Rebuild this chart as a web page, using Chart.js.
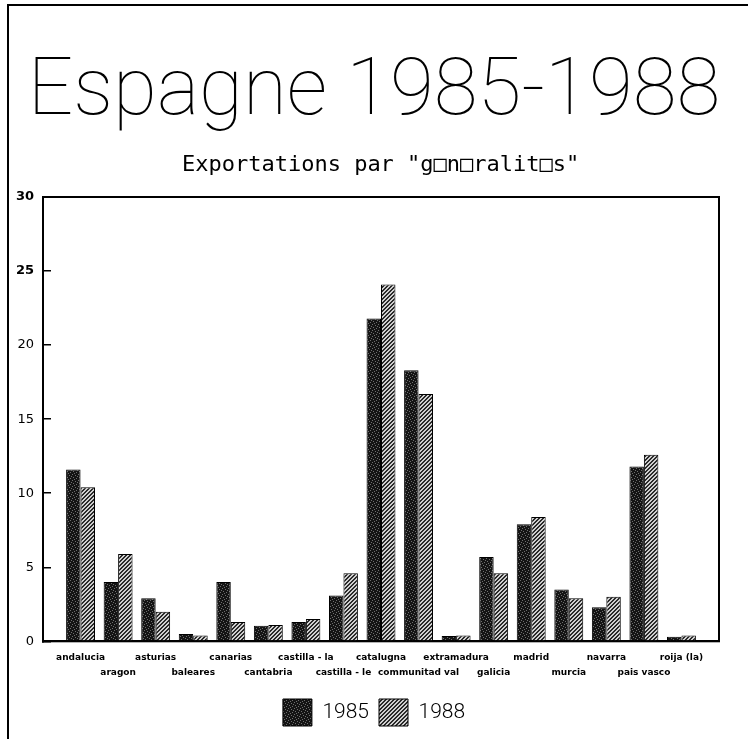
<!DOCTYPE html>
<html>
<head>
<meta charset="utf-8">
<script src="https://cdn.jsdelivr.net/npm/chart.js@4.4.0/dist/chart.umd.min.js"></script>
<style>
  body { margin: 0; background: #fff; }
  canvas { display: block; }
</style>
</head>
<body>
<canvas id="myChart" width="748" height="739"></canvas>
<script>
// regions, values
const categories = ['andalucia', 'aragon', 'asturias', 'baleares', 'canarias', 'cantabria',
  'castilla - la', 'castilla - le', 'catalugna', 'communitad val', 'extramadura', 'galicia',
  'madrid', 'murcia', 'navarra', 'pais vasco', 'roija (la)'];
const values1985 = [11.6, 4.0, 2.9, 0.5, 4.0, 1.05, 1.3, 3.1, 21.8, 18.3, 0.35, 5.7, 7.9, 3.5, 2.3, 11.8, 0.3];
const values1988 = [10.4, 5.9, 2.0, 0.4, 1.3, 1.1, 1.5, 4.6, 24.1, 16.7, 0.4, 4.6, 8.4, 2.9, 3.0, 12.6, 0.4];
const seriesNames = ['1985', '1988'];
const yTicks = [0, 5, 10, 15, 20, 25, 30];

// blank slot at each end so groups sit one step in from the frame
const labels = [''].concat(categories, ['']);
const pad = arr => [null].concat(arr, [null]);

function makePattern(w, h, paint) {
  const c = document.createElement('canvas');
  c.width = w; c.height = h;
  const g = c.getContext('2d');
  paint(g);
  return g.createPattern(c, 'repeat');
}

// dark stipple for 1985
const stipple = makePattern(6, 6, g => {
  g.fillStyle = '#141414';
  g.fillRect(0, 0, 6, 6);
  g.fillStyle = '#6e6e6e';
  [[0, 0], [3, 1], [1, 3], [4, 4], [5, 2], [2, 5]].forEach(p => g.fillRect(p[0], p[1], 1, 1));
});

// diagonal hatch for 1988
const hatch = makePattern(4, 4, g => {
  for (let x = 0; x < 4; x++) {
    for (let y = 0; y < 4; y++) {
      g.fillStyle = ((x + y) % 4 < 2) ? '#2a2a2a' : '#d0d0d0';
      g.fillRect(x, y, 1, 1);
    }
  }
});

const framePlugin = {
  id: 'frame',
  beforeDraw(chart) {
    const ctx = chart.ctx;
    ctx.save();
    ctx.fillStyle = '#fff';
    ctx.fillRect(0, 0, chart.width, chart.height);
    ctx.strokeStyle = '#000';
    ctx.lineWidth = 2;
    ctx.strokeRect(8, 5, chart.width + 20, chart.height + 20);
    ctx.restore();
  },
  afterDatasetsDraw(chart) {
    const ctx = chart.ctx;
    const a = chart.chartArea;
    ctx.save();
    ctx.strokeStyle = '#000';
    ctx.lineWidth = 2;
    ctx.strokeRect(a.left, a.top, a.right - a.left, a.bottom - a.top);
    ctx.restore();
  }
};

const ctx = document.getElementById('myChart').getContext('2d');
new Chart(ctx, {
  type: 'bar',
  data: {
    labels: labels,
    datasets: [
      { label: seriesNames[0], data: pad(values1985), backgroundColor: stipple, borderColor: '#000', borderWidth: 1 },
      { label: seriesNames[1], data: pad(values1988), backgroundColor: hatch, borderColor: '#000', borderWidth: 1 }
    ]
  },
  options: {
    responsive: false,
    animation: false,
    datasets: { bar: { categoryPercentage: 0.77, barPercentage: 1 } },
    layout: { padding: { left: 0, right: 0, top: 0, bottom: 3 } },
    plugins: {
      title: {
        display: true,
        text: 'Espagne 1985-1988',
        color: '#000',
        font: { family: 'Roboto', size: 80, weight: '100', lineHeight: 1 },
        padding: { top: 54, bottom: 0 }
      },
      subtitle: {
        display: true,
        text: ' Exportations par "g\u25a1n\u25a1ralit\u25a1s"',
        color: '#000',
        font: { family: 'DejaVu Sans Mono', size: 22, weight: 'normal', lineHeight: 1 },
        padding: { top: 20, bottom: 21 }
      },
      legend: {
        position: 'bottom',
        labels: {
          boxWidth: 29,
          boxHeight: 27,
          color: '#000',
          font: { family: 'Roboto', size: 21, weight: '300' }
        }
      },
      tooltip: { enabled: false }
    },
    scales: {
      x: {
        offset: false,
        grid: { display: false, drawTicks: false },
        border: { display: true, color: '#000', width: 2 },
        ticks: {
          autoSkip: false,
          maxRotation: 0,
          minRotation: 0,
          padding: 9,
          color: '#000',
          font: { family: 'DejaVu Sans', size: 9, weight: 'bold', lineHeight: 1.65 },
          callback: function (value, index) {
            const name = labels[index];
            if (!name) return '';
            return (index - 1) % 2 === 0 ? name : ['', name];
          }
        }
      },
      y: {
        min: 0,
        max: 30,
        afterBuildTicks: scale => { scale.ticks = yTicks.map(v => ({ value: v })); },
        afterFit: scale => { scale.width = 43; },
        grid: { drawOnChartArea: false, drawTicks: true, tickLength: -8, color: '#000', lineWidth: 1.5 },
        border: { display: true, color: '#000', width: 2 },
        ticks: {
          padding: 17,
          color: '#000',
          font: c => ({ family: 'DejaVu Sans', size: 13, weight: (c.tick && c.tick.value >= 25) ? 'bold' : 'normal' })
        }
      },
      // empty strip on the right so titles and legend centre on the full page
      right: {
        position: 'right',
        min: 0,
        max: 30,
        afterFit: scale => { scale.width = 29; },
        grid: { display: false },
        border: { display: false },
        ticks: { display: false }
      }
    }
  },
  plugins: [framePlugin]
});
</script>
</body>
</html>
